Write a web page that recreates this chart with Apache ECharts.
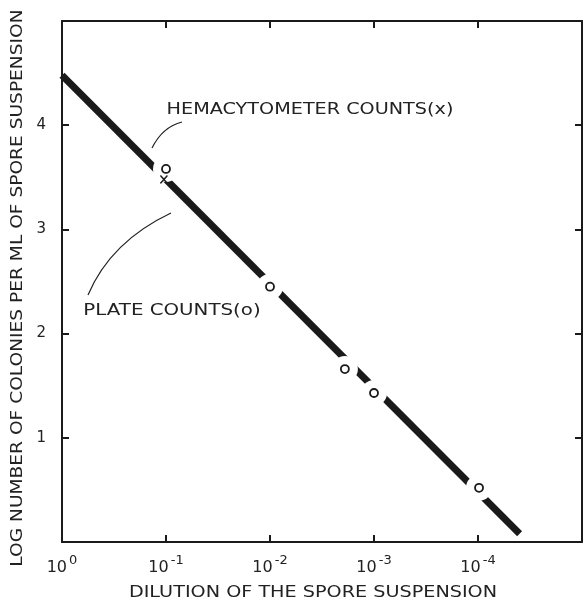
<!DOCTYPE html>
<html><head><meta charset="utf-8">
<script src="https://cdn.jsdelivr.net/npm/echarts@6/dist/echarts.min.js"></script>
<style>html,body{margin:0;padding:0;background:#fff}#c{width:585px;height:601px}</style>
</head><body><div id="c"></div>
<script>
// dilution expressed as exponent n of 10^-n
const xTickExponents = [0, 1, 2, 3, 4];
const yTickLabels = ['1', '2', '3', '4'];
const plateX = [1, 2, 2.72, 3, 4.01];
const plateY = [3.58, 2.45, 1.66, 1.43, 0.52];
const hemaX = [0.98];
const hemaY = [3.48];
const fitX = [0, 4.4];
const fitY = [4.48, 0.08];
const xTitle = 'DILUTION OF THE SPORE SUSPENSION';
const yTitle = 'LOG NUMBER OF COLONIES PER ML OF SPORE SUSPENSION';
const hemaNote = 'HEMACYTOMETER COUNTS(x)';
const plateNote = 'PLATE COUNTS(o)';

const FONT = 'DejaVu Sans';
const INK = '#1a1a1a';
const chart = echarts.init(document.getElementById('c'));
const pairs = (xs, ys) => xs.map((x, i) => [x, ys[i]]);
const frameAxis = {
  axisLine: { show: true, onZero: false, lineStyle: { color: INK, width: 2 } },
  axisTick: { show: true, inside: true, length: 7, lineStyle: { color: INK, width: 2 } },
  splitLine: { show: false }
};

chart.setOption({
  backgroundColor: '#fff',
  animation: false,
  grid: { left: 62, right: 1, top: 21, bottom: 59 },
  xAxis: [
    Object.assign({ type: 'value', min: 0, max: 5, interval: 1, position: 'bottom',
      axisLabel: { margin: 12, color: '#222', fontFamily: FONT,
        formatter: v => xTickExponents.indexOf(v) >= 0 ? '{b|10}{s|' + (v === 0 ? '0' : '-' + v) + '}' : '',
        rich: { b: { fontSize: 16, fontFamily: FONT, color: '#222', lineHeight: 22, verticalAlign: 'bottom' },
                s: { fontSize: 13, fontFamily: FONT, color: '#222', lineHeight: 22, verticalAlign: 'top', padding: [0, 0, 0, 2] } } } }, frameAxis),
    Object.assign({ type: 'value', min: 0, max: 5, interval: 1, position: 'top',
      axisLabel: { show: false } }, frameAxis)
  ],
  yAxis: [
    Object.assign({ type: 'value', min: 0, max: 5, interval: 1, position: 'left',
      axisLabel: { margin: 16, color: '#222', fontFamily: FONT, fontSize: 15,
        formatter: v => yTickLabels.indexOf(String(v)) >= 0 ? String(v) : '' } }, frameAxis),
    Object.assign({ type: 'value', min: 0, max: 5, interval: 1, position: 'right',
      axisLabel: { show: false } }, frameAxis)
  ],
  series: [
    { type: 'line', data: pairs(fitX, fitY), symbol: 'none', z: 2,
      lineStyle: { color: INK, width: 7 } },
    { type: 'scatter', data: pairs(plateX, plateY), symbol: 'circle', symbolSize: 26, z: 3,
      itemStyle: { color: '#fff', opacity: 1 }, silent: true },
    { type: 'scatter', name: 'Plate counts', data: pairs(plateX, plateY), symbol: 'circle', symbolSize: 8, z: 5,
      itemStyle: { color: '#fff', borderColor: INK, borderWidth: 1.8, opacity: 1 } },
    { type: 'scatter', name: 'Hemacytometer counts', data: pairs(hemaX, hemaY), z: 6,
      symbol: 'path://M0,1.2L1.2,0L5,3.8L8.8,0L10,1.2L6.2,5L10,8.8L8.8,10L5,6.2L1.2,10L0,8.8L3.8,5Z',
      symbolSize: [8, 9], itemStyle: { color: INK, opacity: 1 } }
  ],
  graphic: [
    { type: 'text', x: 310, y: 110, scaleX: 1.28, z: 10,
      style: { text: hemaNote, fontFamily: FONT, fontSize: 15, fill: '#222', align: 'center', verticalAlign: 'middle' } },
    { type: 'text', x: 172, y: 311, scaleX: 1.32, z: 10,
      style: { text: plateNote, fontFamily: FONT, fontSize: 15, fill: '#222', align: 'center', verticalAlign: 'middle' } },
    { type: 'text', x: 313, y: 593, scaleX: 1.28, z: 10,
      style: { text: xTitle, fontFamily: FONT, fontSize: 15, fill: '#222', align: 'center', verticalAlign: 'middle' } },
    { type: 'text', x: 18, y: 288, rotation: Math.PI / 2, scaleX: 1.24, z: 10,
      style: { text: yTitle, fontFamily: FONT, fontSize: 15, fill: '#222', align: 'center', verticalAlign: 'middle' } },
    { type: 'bezierCurve', z: 10,
      shape: { x1: 152, y1: 148, x2: 182, y2: 122, cpx1: 160, cpy1: 132, cpx2: 170, cpy2: 125 },
      style: { stroke: '#222', lineWidth: 1.2, fill: null } },
    { type: 'bezierCurve', z: 10,
      shape: { x1: 88, y1: 295, x2: 171, y2: 213, cpx1: 105, cpy1: 255, cpx2: 135, cpy2: 230 },
      style: { stroke: '#222', lineWidth: 1.2, fill: null } }
  ]
});
</script></body></html>
